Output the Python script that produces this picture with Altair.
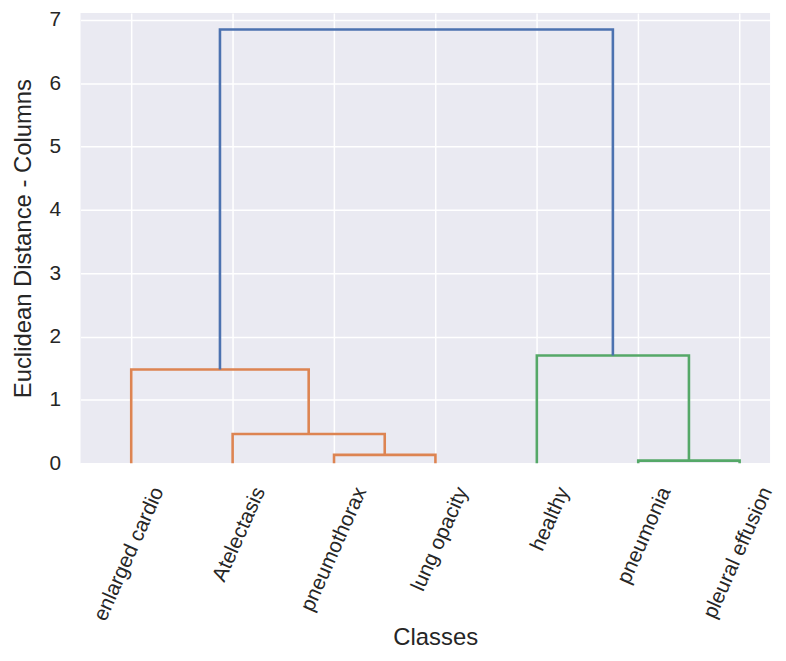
import altair as alt
import pandas as pd

# Leaves of the dendrogram, in display order
leaves = ["enlarged cardio", "Atelectasis", "pneumothorax", "lung opacity",
          "healthy", "pneumonia", "pleural effusion"]

# Merges (scipy-style): node ids 0..6 are leaves, 7.. are merged clusters
merge_left = [2, 1, 0, 5, 4, 9]
merge_right = [3, 7, 8, 6, 10, 11]
merge_height = [0.13, 0.46, 1.48, 0.04, 1.70, 6.85]
merge_color = ["#dd8452", "#dd8452", "#dd8452", "#55a868", "#55a868", "#4c72b0"]

y_ticks = [0, 1, 2, 3, 4, 5, 6, 7]

# Build link paths from the merge table
pos = {i: 5 + 10 * i for i in range(len(leaves))}
hgt = {i: 0.0 for i in range(len(leaves))}
rows = []
for k, (l, r, h, c) in enumerate(zip(merge_left, merge_right, merge_height, merge_color)):
    node = len(leaves) + k
    xl, xr = pos[l], pos[r]
    pts = [(xl, hgt[l]), (xl, h), (xr, h), (xr, hgt[r])]
    for j, (x, y) in enumerate(pts):
        rows.append({"link": k, "order": j, "x": x, "y": y, "color": c})
    pos[node] = (xl + xr) / 2
    hgt[node] = h

df = pd.DataFrame(rows)
x_vals = [pos[i] for i in range(len(leaves))]
names_js = "[" + ",".join("'" + n + "'" for n in leaves) + "]"
label_expr = names_js + "[round((datum.value - 5) / 10)]"

chart = alt.Chart(df).mark_line(strokeWidth=2.6, strokeJoin="miter").encode(
    x=alt.X("x:Q",
            scale=alt.Scale(domain=[0, 68.0], nice=False, zero=False),
            axis=alt.Axis(values=x_vals, labelExpr=label_expr, labelAngle=-66,
                          labelAlign="right", labelBaseline="middle",
                          labelOffset=27, labelPadding=25,
                          title="Classes", titleX=357, titleY=188,
                          titleBaseline="bottom")),
    y=alt.Y("y:Q",
            scale=alt.Scale(domain=[0, 7.11], nice=False),
            axis=alt.Axis(values=y_ticks, title="Euclidean Distance - Columns",
                          labelPadding=20, titlePadding=14)),
    color=alt.Color("color:N", scale=None),
    detail="link:N",
    order="order:Q",
).properties(
    width=694, height=453,
    autosize=alt.AutoSizeParams(type="none"),
    padding={"left": 73, "top": 3, "right": 8, "bottom": 189},
).configure_view(
    fill="#eaeaf2", stroke=None
).configure_axis(
    domain=False, ticks=False, grid=True, gridColor="white", gridWidth=1.5,
    labelFont="Liberation Sans", labelFontSize=21, labelColor="#262626",
    titleFont="Liberation Sans", titleFontSize=24, titleColor="#262626",
    titleFontWeight="normal"
)

chart.save("out.html", embed_options={"renderer": "svg", "actions": False})
